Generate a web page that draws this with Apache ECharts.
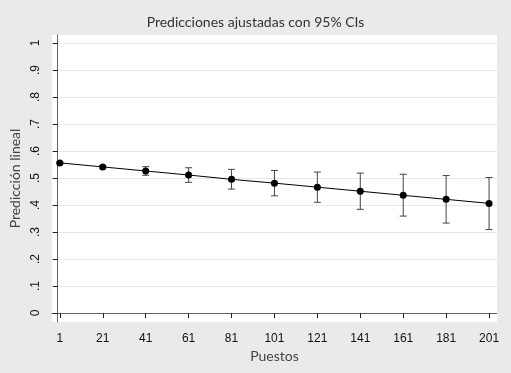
<!DOCTYPE html>
<html>
<head>
<meta charset="utf-8">
<script src="https://cdn.jsdelivr.net/npm/echarts@6/dist/echarts.min.js"></script>
<style>
	html,body{margin:0;padding:0;background:#eaeaea;}
	#chart{width:511px;height:373px;}
</style>
</head>
<body>
<div id="chart"></div>
<script>
	// datos
	var puestos = [1, 21, 41, 61, 81, 101, 121, 141, 161, 181, 201];
	var prediccion = [0.556, 0.541, 0.526, 0.511, 0.495, 0.481, 0.466, 0.451, 0.436, 0.421, 0.406];
	var ic_bajo = [0.553, 0.536, 0.510, 0.484, 0.459, 0.434, 0.410, 0.384, 0.359, 0.333, 0.309];
	var ic_alto = [0.559, 0.546, 0.542, 0.538, 0.532, 0.528, 0.522, 0.518, 0.514, 0.509, 0.502];
	var y_ticks = [0, 0.1, 0.2, 0.3, 0.4, 0.5, 0.6, 0.7, 0.8, 0.9, 1];

	var puntos = puestos.map(function(p, i){ return [p, prediccion[i]]; });
	var barras = puestos.map(function(p, i){ return [p, ic_bajo[i], ic_alto[i]]; });

	var fuente_ticks = 'Arial, "Liberation Sans", sans-serif';

	var chart = echarts.init(document.getElementById('chart'));
	chart.setOption({
		backgroundColor: '#eaeaea',
		animation: false,
		title: {
			text: 'Predicciones ajustadas con 95% CIs',
			left: 'center',
			top: 10,
			textStyle: {fontFamily: 'Lato', fontSize: 14, fontWeight: 'normal', color: '#333'}
		},
		grid: {left: 51, right: 14, top: 35, bottom: 51, show: true, backgroundColor: '#fff', borderWidth: 0},
		xAxis: {
			type: 'value',
			min: -2.7,
			max: 204.7,
			name: 'Puestos',
			nameLocation: 'middle',
			nameGap: 25,
			nameTextStyle: {fontFamily: 'Lato', fontSize: 14, color: '#444'},
			axisLine: {lineStyle: {color: '#666', width: 1}},
			axisTick: {show: true, length: 5, lineStyle: {color: '#222'}, customValues: puestos},
			axisLabel: {customValues: puestos, fontFamily: fuente_ticks, fontSize: 12, color: '#111', margin: 11},
			splitLine: {show: false}
		},
		yAxis: {
			type: 'value',
			min: -0.0333,
			max: 1.0296,
			name: 'Predicción lineal',
			nameLocation: 'middle',
			nameGap: 25,
			nameTextStyle: {fontFamily: 'Lato', fontSize: 14, color: '#444'},
			axisLine: {show: true, lineStyle: {color: '#666', width: 1}},
			axisTick: {show: true, length: 5, lineStyle: {color: '#222'}, customValues: y_ticks},
			axisLabel: {
				customValues: y_ticks,
				rotate: 90,
				fontFamily: fuente_ticks, fontSize: 12, color: '#111', margin: 10,
				formatter: function(v){
					if (v === 0) return '0';
					if (v === 1) return '1';
					return String(Math.round(v * 10) / 10).replace('0.', '.');
				}
			},
			splitLine: {show: true, lineStyle: {color: '#e8e8e8', width: 1}}
		},
		series: [
			{
				type: 'custom',
				data: barras,
				z: 2,
				renderItem: function(params, api){
					var x = api.value(0);
					var lo = api.coord([x, api.value(1)]);
					var hi = api.coord([x, api.value(2)]);
					var w = 3.5;
					var st = {stroke: '#444', lineWidth: 1};
					return {
						type: 'group',
						children: [
							{type: 'line', shape: {x1: lo[0], y1: lo[1], x2: hi[0], y2: hi[1]}, style: st},
							{type: 'line', shape: {x1: lo[0] - w, y1: lo[1], x2: lo[0] + w, y2: lo[1]}, style: st},
							{type: 'line', shape: {x1: hi[0] - w, y1: hi[1], x2: hi[0] + w, y2: hi[1]}, style: st}
						]
					};
				}
			},
			{
				type: 'line',
				data: puntos,
				z: 3,
				symbol: 'circle',
				symbolSize: 7,
				itemStyle: {color: '#000'},
				lineStyle: {color: '#000', width: 1}
			}
		]
	});
</script>
</body>
</html>
